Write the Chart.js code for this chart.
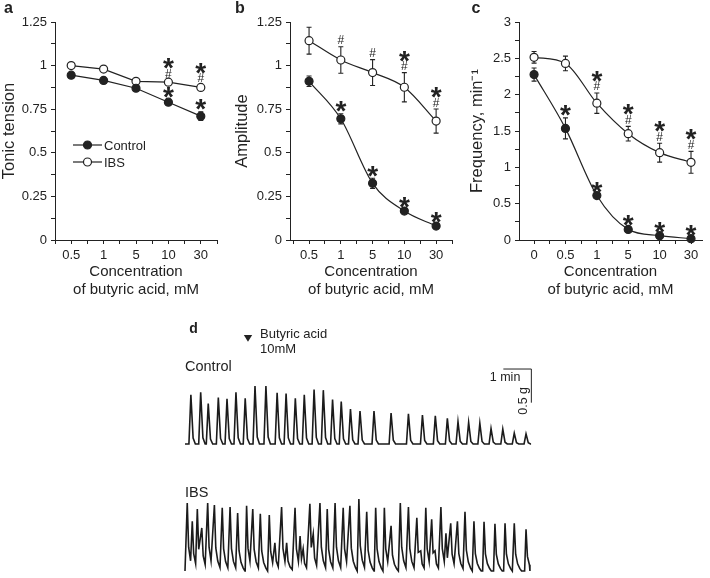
<!DOCTYPE html>
<html><head><meta charset="utf-8">
<script src="https://cdn.jsdelivr.net/npm/chart.js@4.4.0/dist/chart.umd.min.js"></script>
<style>
html,body{margin:0;padding:0;background:#fff;}
#wrap{position:relative;width:710px;height:578px;overflow:hidden;background:#fff;}
canvas{position:absolute;}
</style></head><body>
<div id="wrap">
<canvas id="ca" width="230" height="300" style="left:0px;top:0px"></canvas>
<canvas id="cb" width="230" height="300" style="left:233px;top:0px"></canvas>
<canvas id="cc" width="242" height="300" style="left:468px;top:0px"></canvas>
<canvas id="cd1" width="370" height="160" style="left:180px;top:300px"></canvas>
<canvas id="cd2" width="370" height="98" style="left:180px;top:480px"></canvas>
</div>
<script>
// ---------- DATA ----------
const catsAB = ['0.5','1','5','10','30'];
const catsC  = ['0','0.5','1','5','10','30'];

const tonicControl      = [0.945, 0.915, 0.87, 0.79, 0.71];
const tonicControlErr   = [0.01, 0.01, 0.01, 0.015, 0.025];
const tonicIBS          = [1.0, 0.98, 0.91, 0.905, 0.875];
const tonicIBSErr       = [0.006, 0.01, 0.012, 0.01, 0.015];
const tonicControlMarks = ['', '', '', '*', '*'];
const tonicIBSMarks     = ['', '', '', '*#', '*#'];

const ampControl      = [0.91, 0.695, 0.325, 0.166, 0.08];
const ampControlErr   = [0.03, 0.029, 0.029, 0.01, 0.01];
const ampIBS          = [1.143, 1.032, 0.96, 0.876, 0.682];
const ampIBSErr       = [0.077, 0.076, 0.074, 0.084, 0.069];
const ampControlMarks = ['', '*', '*', '*', '*'];
const ampIBSMarks     = ['', '#', '#', '*#', '*#'];

const freqControl      = [2.276, 1.536, 0.612, 0.146, 0.06, 0.018];
const freqControlErr   = [0.09, 0.145, 0.02, 0.02, 0.02, 0.01];
const freqIBS          = [2.514, 2.43, 1.883, 1.463, 1.202, 1.069];
const freqIBSErr       = [0.08, 0.1, 0.14, 0.1, 0.13, 0.15];
const freqControlMarks = ['', '*', '*', '*', '*', '*'];
const freqIBSMarks     = ['', '', '*#', '*#', '*#', '*#'];

// Panel d: contraction peaks (time in min, amplitude in g)
const controlPeakTimes = [0.21,0.56,0.83,1.19,1.5,1.82,2.15,2.5,2.89,3.29,3.61,3.94,4.26,4.61,4.94,5.27,5.58,5.91,6.25,6.75,7.36,7.98,8.48,8.94,9.37,9.75,10.13,10.53,10.93,11.35,11.76,12.18];
const controlPeakAmps  = [0.73,0.77,0.60,0.69,0.67,0.77,0.68,0.86,0.86,0.76,0.75,0.68,0.73,0.81,0.80,0.66,0.63,0.52,0.49,0.49,0.46,0.45,0.43,0.42,0.38,0.33,0.32,0.31,0.23,0.22,0.16,0.15];
const ibsPeakTimes = [0.08,0.26,0.44,0.6,0.81,1.05,1.33,1.61,1.88,2.2,2.42,2.69,3.01,3.21,3.45,3.63,3.93,4.11,4.22,4.46,4.58,4.82,5.08,5.36,5.65,5.89,6.21,6.49,6.81,7.12,7.36,7.69,7.98,8.28,8.42,8.6,8.81,8.93,9.14,9.32,9.49,9.73,10.0,10.32,10.68,11.07,11.43,11.76,12.18];
const ibsPeakAmps  = [1.01,0.74,0.92,0.64,1.01,0.98,0.94,0.95,0.86,0.97,0.92,0.85,0.83,0.42,0.95,0.42,0.94,0.52,0.33,1.0,0.55,1.01,0.92,1.01,0.94,0.97,1.07,0.88,0.94,0.94,0.67,1.01,0.95,0.79,0.3,0.94,0.77,0.3,0.95,0.56,0.71,0.74,0.88,0.74,0.73,0.7,0.71,0.71,0.62];
const controlTraceEnd = 12.36;
const ibsTraceEnd = 12.32;
const acidTime = 2.25;          // min, butyric acid 10 mM added
const scaleBarMinutes = 1;
const scaleBarGrams = 0.5;

// ---------- STYLE / HELPERS ----------
const FONT = "'Liberation Sans', Arial, Helvetica, sans-serif";
const INK = '#222';
Chart.defaults.font.family = FONT;
Chart.defaults.color = INK;
Chart.defaults.animation = false;

function fmt(v){ return String(parseFloat(v.toFixed(3))); }

const errorBarPlugin = { id:'errbars', beforeDatasetsDraw(chart){
  const ctx = chart.ctx, ys = chart.scales.y;
  chart.data.datasets.forEach((ds,i)=>{
    if(!ds.err) return;
    const meta = chart.getDatasetMeta(i);
    ctx.save(); ctx.strokeStyle = INK; ctx.lineWidth = 1.1;
    meta.data.forEach((pt,j)=>{
      const v = ds.data[j].y, e = ds.err[j];
      const y1 = ys.getPixelForValue(v+e), y2 = ys.getPixelForValue(v-e);
      ctx.beginPath();
      ctx.moveTo(pt.x,y1); ctx.lineTo(pt.x,y2);
      ctx.moveTo(pt.x-2.5,y1); ctx.lineTo(pt.x+2.5,y1);
      ctx.moveTo(pt.x-2.5,y2); ctx.lineTo(pt.x+2.5,y2);
      ctx.stroke();
    });
    ctx.restore();
  });
}};

const marksPlugin = { id:'marks', afterDatasetsDraw(chart){
  const ctx = chart.ctx, ys = chart.scales.y;
  chart.data.datasets.forEach((ds,i)=>{
    if(!ds.marks) return;
    const meta = chart.getDatasetMeta(i);
    meta.data.forEach((pt,j)=>{
      const m = ds.marks[j]; if(!m) return;
      let cursor = ys.getPixelForValue(ds.data[j].y + ds.err[j]) - 2;
      ctx.save(); ctx.fillStyle = INK; ctx.textAlign = 'center'; ctx.textBaseline = 'alphabetic';
      for(let k=m.length-1;k>=0;k--){
        const ch = m[k], star = ch === '*';
        ctx.font = star ? `bold 28px ${FONT}` : `12px ${FONT}`;
        const mt = ctx.measureText(ch);
        const center = cursor - 5;
        ctx.fillText(ch, pt.x, center + (mt.actualBoundingBoxAscent - mt.actualBoundingBoxDescent)/2);
        cursor -= star ? 10.5 : 9.5;
      }
      ctx.restore();
    });
  });
}};

function textPlugin(offX, offY, items){
  return { id:'pageText', afterDraw(chart){
    const ctx = chart.ctx; ctx.save(); ctx.fillStyle = INK;
    for(const it of items){
      ctx.font = it.font; ctx.textAlign = it.align || 'left';
      ctx.textBaseline = it.baseline || 'alphabetic';
      ctx.save(); ctx.translate(it.x-offX, it.y-offY);
      if(it.rot) ctx.rotate(it.rot);
      ctx.fillText(it.text, 0, 0); ctx.restore();
    }
    ctx.restore();
  }};
}

function series(vals, err, marks, filled, smooth){
  return {
    data: vals.map((v,i)=>({x:i, y:v})),
    err, marks,
    borderColor: INK, borderWidth: 1.2,
    pointRadius: 4, pointHoverRadius: 4,
    pointBackgroundColor: filled ? INK : '#fff',
    pointBorderColor: INK, pointBorderWidth: 1.2,
    tension: smooth ? 0.4 : 0,
    cubicInterpolationMode: smooth ? 'monotone' : 'default',
    clip: false
  };
}

function topChart(id, cats, datasets, cfg){
  const extraPlugins = cfg.plugins || [];
  return new Chart(document.getElementById(id), {
    type:'line',
    data:{ datasets },
    options:{
      responsive:false, devicePixelRatio:1, animation:false,
      layout:{ padding:{ left:0, right:cfg.padRight, top:22, bottom:1 } },
      plugins:{ legend:{display:false}, tooltip:{enabled:false} },
      scales:{
        x:{
          type:'linear', min:cfg.xmin, max:cfg.xmax,
          border:{ color:INK, width:1 },
          grid:{ drawOnChartArea:false, drawTicks:true, tickLength:4, color:INK },
          afterBuildTicks:(s)=>{ const t=[]; for(let v=Math.ceil(s.min*2)/2; v<=s.max+1e-9; v+=0.5) t.push({value:v}); s.ticks=t; },
          ticks:{ font:{size:13}, color:INK, padding:4, maxRotation:0, autoSkip:false,
            callback:(v)=>{ const r=Math.round(v); return (Math.abs(v-r)<1e-6 && r>=0 && r<cats.length) ? cats[r] : ''; } },
          title:{ display:true, text:['Concentration','of butyric acid, mM'], font:{size:15, lineHeight:1.2}, color:INK, padding:{top:0,bottom:0} },
          afterFit:(s)=>{ s.height = 59; }
        },
        y:{
          type:'linear', min:0, max:cfg.ymax,
          border:{ color:INK, width:1 },
          grid:{ drawOnChartArea:false, drawTicks:true, tickLength:4, color:INK },
          afterBuildTicks:(s)=>{ const t=[]; const st=cfg.ystep/2; for(let k=0; k*st<=cfg.ymax+1e-9; k++) t.push({value:k*st}); s.ticks=t; },
          ticks:{ font:{size:13}, color:INK, padding:4, autoSkip:false,
            callback:(v)=>{ const q=v/cfg.ystep; return Math.abs(q-Math.round(q))<1e-6 ? fmt(v) : ''; } },
          title:{ display:true, text:cfg.yTitle, font:{size:16.5, lineHeight:1.1}, color:INK, padding:0 },
          afterFit:(s)=>{ s.width = cfg.yWidth; }
        }
      }
    },
    plugins:[errorBarPlugin, marksPlugin, ...extraPlugins]
  });
}

// ---------- PANEL a ----------
const legendPlugin = { id:'legendA', afterDraw(chart){
  const ctx = chart.ctx;
  const rows = [[chart.data.datasets[0],'Control',145],[chart.data.datasets[1],'IBS',162]];
  ctx.save();
  for(const [ds,label,y] of rows){
    ctx.strokeStyle = INK; ctx.lineWidth = 1.2;
    ctx.beginPath(); ctx.moveTo(73,y); ctx.lineTo(102,y); ctx.stroke();
    ctx.beginPath(); ctx.arc(87.5,y,4,0,Math.PI*2);
    ctx.fillStyle = ds.pointBackgroundColor; ctx.fill(); ctx.stroke();
    ctx.fillStyle = INK; ctx.font = `13px ${FONT}`; ctx.textAlign='left'; ctx.textBaseline='alphabetic';
    ctx.fillText(label, 104, y+4.7);
  }
  ctx.restore();
}};

topChart('ca', catsAB, [
  series(tonicControl, tonicControlErr, tonicControlMarks, true, false),
  series(tonicIBS, tonicIBSErr, tonicIBSMarks, false, false)
], { xmin:-0.5, xmax:4.5, ymax:1.25, ystep:0.25, yTitle:'Tonic tension', padRight:13, yWidth:55,
     plugins:[legendPlugin, textPlugin(0,0,[{text:'a', x:4, y:13, font:`bold 16px ${FONT}`}])] });

// ---------- PANEL b ----------
topChart('cb', catsAB, [
  series(ampControl, ampControlErr, ampControlMarks, true, true),
  series(ampIBS, ampIBSErr, ampIBSMarks, false, true)
], { xmin:-0.6, xmax:4.5, ymax:1.25, ystep:0.25, yTitle:'Amplitude', padRight:11, yWidth:57,
     plugins:[textPlugin(233,0,[{text:'b', x:235, y:13.3, font:`bold 16px ${FONT}`}])] });

// ---------- PANEL c ----------
topChart('cc', catsC, [
  series(freqControl, freqControlErr, freqControlMarks, true, true),
  series(freqIBS, freqIBSErr, freqIBSMarks, false, true)
], { xmin:-0.48, xmax:5.35, ymax:3, ystep:0.5, yTitle:'Frequency, min\u207B\u00B9', padRight:8, yWidth:51,
     plugins:[textPlugin(468,0,[{text:'c', x:471.5, y:12.7, font:`bold 16px ${FONT}`}])] });

// ---------- PANEL d ----------
function buildTrace(times, amps, rise, decay, end){
  const pts = [{x:0, y:0}];
  let complete = true;
  for(let i=0;i<times.length;i++){
    const t = times[i], h = amps[i];
    const last = pts[pts.length-1].x;
    if(complete && t-rise > last+0.005) pts.push({x:t-rise, y:0});
    pts.push({x:t, y:h});
    const nextStart = i<times.length-1 ? times[i+1]-rise : end;
    complete = true;
    for(const [dt,f] of decay){
      if(t+dt < nextStart) pts.push({x:t+dt, y:h*f}); else { complete = false; break; }
    }
  }
  pts.push({x:end, y:0});
  return pts;
}

function traceChart(id, pts, cfg, plugins){
  return new Chart(document.getElementById(id), {
    type:'line',
    data:{ datasets:[{ data:pts, borderColor:'#1b1b1b', borderWidth:1.6, pointRadius:0, tension:0, clip:false }] },
    options:{
      responsive:false, devicePixelRatio:1, animation:false, parsing:true,
      layout:{ padding:cfg.padding },
      plugins:{ legend:{display:false}, tooltip:{enabled:false} },
      scales:{
        x:{ type:'linear', display:false, min:0, max:cfg.xmax },
        y:{ type:'linear', display:false, min:cfg.ymin, max:cfg.ymax }
      }
    },
    plugins
  });
}

const scaleBarPlugin = { id:'scalebar', afterDraw(chart){
  const ctx = chart.ctx, xs = chart.scales.x, ys = chart.scales.y;
  const t0 = 11.37, gTop = 1.114;
  const xA = xs.getPixelForValue(t0), xB = xs.getPixelForValue(t0 + scaleBarMinutes);
  const yA = ys.getPixelForValue(gTop), yB = ys.getPixelForValue(gTop - scaleBarGrams);
  ctx.save(); ctx.strokeStyle = INK; ctx.lineWidth = 1;
  ctx.beginPath(); ctx.moveTo(xA, yA); ctx.lineTo(xB, yA); ctx.lineTo(xB, yB); ctx.stroke();
  ctx.fillStyle = INK; ctx.font = `12.5px ${FONT}`; ctx.textAlign='right'; ctx.textBaseline='alphabetic';
  ctx.fillText(scaleBarMinutes + ' min', xB-11, yA+12);
  ctx.save(); ctx.translate(xB-8, (yA+yB)/2+15); ctx.rotate(-Math.PI/2);
  ctx.textAlign='center'; ctx.textBaseline='middle'; ctx.fillText(scaleBarGrams + ' g', 0, 0); ctx.restore();
  // butyric acid marker
  const xm = xs.getPixelForValue(acidTime);
  ctx.beginPath(); ctx.moveTo(xm-4.2, 35); ctx.lineTo(xm+4.2, 35); ctx.lineTo(xm, 41.7); ctx.closePath(); ctx.fill();
  ctx.restore();
}};

traceChart('cd1', buildTrace(controlPeakTimes, controlPeakAmps, 0.07, [[0.08,0.12],[0.16,0]], controlTraceEnd),
  { padding:{left:5, right:10, top:40, bottom:10}, xmax:12.679, ymin:-0.0892, ymax:1.5453 },
  [scaleBarPlugin, textPlugin(180,300,[
    {text:'d', x:189.3, y:333.3, font:`bold 14px ${FONT}`},
    {text:'Butyric acid', x:260, y:337.5, font:`13px ${FONT}`},
    {text:'10mM', x:260, y:353, font:`13px ${FONT}`},
    {text:'Control', x:185, y:371.2, font:`14.5px ${FONT}`}
  ])]);

traceChart('cd2', buildTrace(ibsPeakTimes, ibsPeakAmps, 0.05, [[0.05,0.35],[0.12,0.15],[0.2,0.05],[0.26,0]], ibsTraceEnd),
  { padding:{left:5, right:10, top:15, bottom:4}, xmax:12.679, ymin:-0.0446, ymax:1.1293 },
  [textPlugin(180,480,[{text:'IBS', x:185, y:496.9, font:`14.5px ${FONT}`}])]);
</script>
</body></html>
